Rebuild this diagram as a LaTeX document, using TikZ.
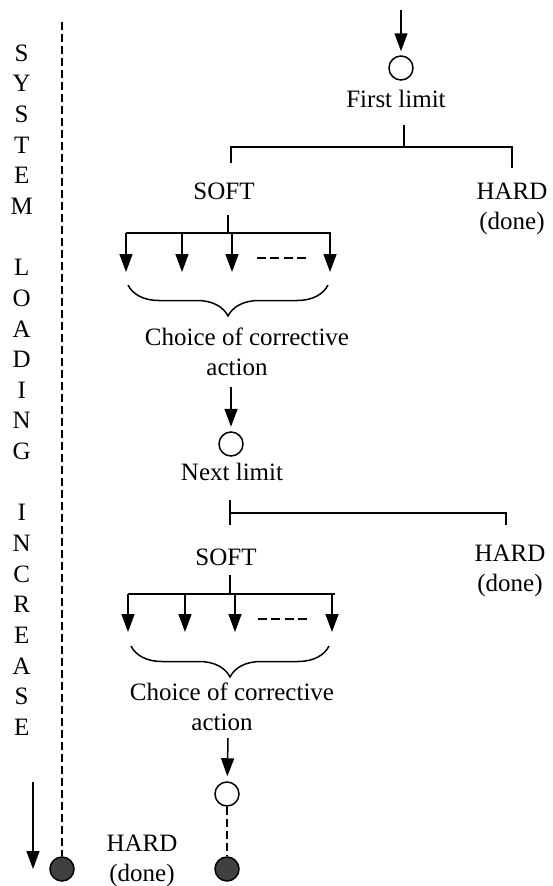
\documentclass[tikz,border=0pt]{standalone}
\usepackage{fontspec}
\setmainfont{Liberation Serif}
\usetikzlibrary{arrows.meta,decorations.pathreplacing}

\begin{document}
\begin{tikzpicture}[x=1pt,y=-1pt,
  ln/.style={line width=1.5pt},
  arr/.style={ln,-{Triangle[length=18pt,width=13pt]}},
  dsh/.style={ln,dash pattern=on 8pt off 4pt},
  txt/.style={inner sep=0pt,font=\fontsize{25}{30}\selectfont},
  multi/.style={txt,align=center,anchor=north},
  opencirc/.style={circle,draw,ln,minimum size=24pt,inner sep=0pt,fill=white},
  fullcirc/.style={circle,draw,ln,minimum size=24pt,inner sep=0pt,fill=black!75},
  brc/.style={ln,decorate,decoration={brace,mirror,amplitude=31pt}},
]
\useasboundingbox (0,0) rectangle (552,886);

% ---- vertical caption and time axis on the left
\foreach \n/\ch in {0/S,1/Y,2/S,3/T,4/E,5/M,7/L,8/O,9/A,10/D,11/I,12/N,13/G,
                    15/I,16/N,17/C,18/R,19/E,20/A,21/S,22/E}
  \node[txt,anchor=base] (v\n) at (21.7,{53+30.64*\n+8.3}) {\ch};

\coordinate (axtop) at (62,22);
\node[fullcirc] (axend) at (62,869) {};
\draw[dsh] (axtop) -- (axend);
\coordinate (la1) at (33,782);
\coordinate (la2) at (33,869);
\draw[arr] (la1) -- (la2);

% ---- first limit
\coordinate (in1) at (401,10);
\node[opencirc] (c1) at (401,68) {};
\draw[arr,shorten >=4pt] (in1) -- (c1);
\node[txt,anchor=base] (fl) at (396,107.3) {First limit};

\coordinate (j1) at (404,125);
\coordinate (j1b) at (404,147);
\coordinate (s1a) at (231,147);
\coordinate (s1b) at (231,163);
\coordinate (h1a) at (512,147);
\coordinate (h1b) at (512,168);
\draw[ln] (j1) -- (j1b);
\draw[ln] (s1b) -- (s1a) -- (h1a) -- (h1b);

\node[txt,anchor=base] (soft1) at (224,199.3) {SOFT};
\node[multi] (hard1) at (512,183) {HARD\\(done)};

% fan of corrective actions
\coordinate (f1a) at (228,215);
\coordinate (f1b) at (228,233);
\draw[ln] (f1a) -- (f1b);
\coordinate (b1l) at (126,233);
\coordinate (b1r) at (331,233);
\draw[ln] (b1l) -- (b1r);
\foreach \x [count=\k] in {126,182,232,330} {
  \coordinate (t1\k) at (\x,233);
  \coordinate (e1\k) at (\x,272);
  \draw[arr] (t1\k) -- (e1\k);
}
\coordinate (d1a) at (257,258);
\coordinate (d1b) at (306,258);
\draw[ln,dash pattern=on 9pt off 4.3pt] (d1a) -- (d1b);

\coordinate (br1a) at (128,285);
\coordinate (br1b) at (328,285);
\draw[brc] (br1a) -- (br1b);
\node[multi] (choice1) at (247,328) {Choice of corrective\\action\hspace*{20pt}};

% ---- next limit
\node[opencirc] (c2) at (231,444) {};
\coordinate (in2) at (231,387);
\draw[arr,shorten >=4.5pt] (in2) -- (c2);
\node[txt,anchor=base] (nl) at (232,480) {Next limit};

\coordinate (j2a) at (230,500);
\coordinate (j2b) at (230,525);
\coordinate (j2m) at (230,513);
\coordinate (h2a) at (506,513);
\coordinate (h2b) at (506,525);
\draw[ln] (j2a) -- (j2b);
\draw[ln] (j2m) -- (h2a) -- (h2b);

\node[txt,anchor=base] (soft2) at (226,565) {SOFT};
\node[multi] (hard2) at (510,545) {HARD\\(done)};

\coordinate (f2a) at (230,575);
\coordinate (f2b) at (230,594);
\draw[ln] (f2a) -- (f2b);
\coordinate (b2l) at (128,594);
\coordinate (b2r) at (335,594);
\draw[ln] (b2l) -- (b2r);
\foreach \x [count=\k] in {128,185,235,332} {
  \coordinate (t2\k) at (\x,594);
  \coordinate (e2\k) at (\x,632);
  \draw[arr] (t2\k) -- (e2\k);
}
\coordinate (d2a) at (258,619);
\coordinate (d2b) at (308,619);
\draw[ln,dash pattern=on 9pt off 4.3pt] (d2a) -- (d2b);

\coordinate (br2a) at (131,646);
\coordinate (br2b) at (329,646);
\draw[brc] (br2a) -- (br2b);
\node[multi] (choice2) at (232,683) {Choice of corrective\\action\hspace*{20pt}};

% ---- final limit
\node[opencirc] (c3) at (227,794) {};
\coordinate (in3) at (228,738);
\draw[arr,shorten >=5pt] (in3) -- (c3);
\node[fullcirc] (c4) at (227,869) {};
\draw[dsh] (c3) -- (c4);
\node[multi] (hard3) at (142,835) {HARD\\(done)};
\end{tikzpicture}
\end{document}
